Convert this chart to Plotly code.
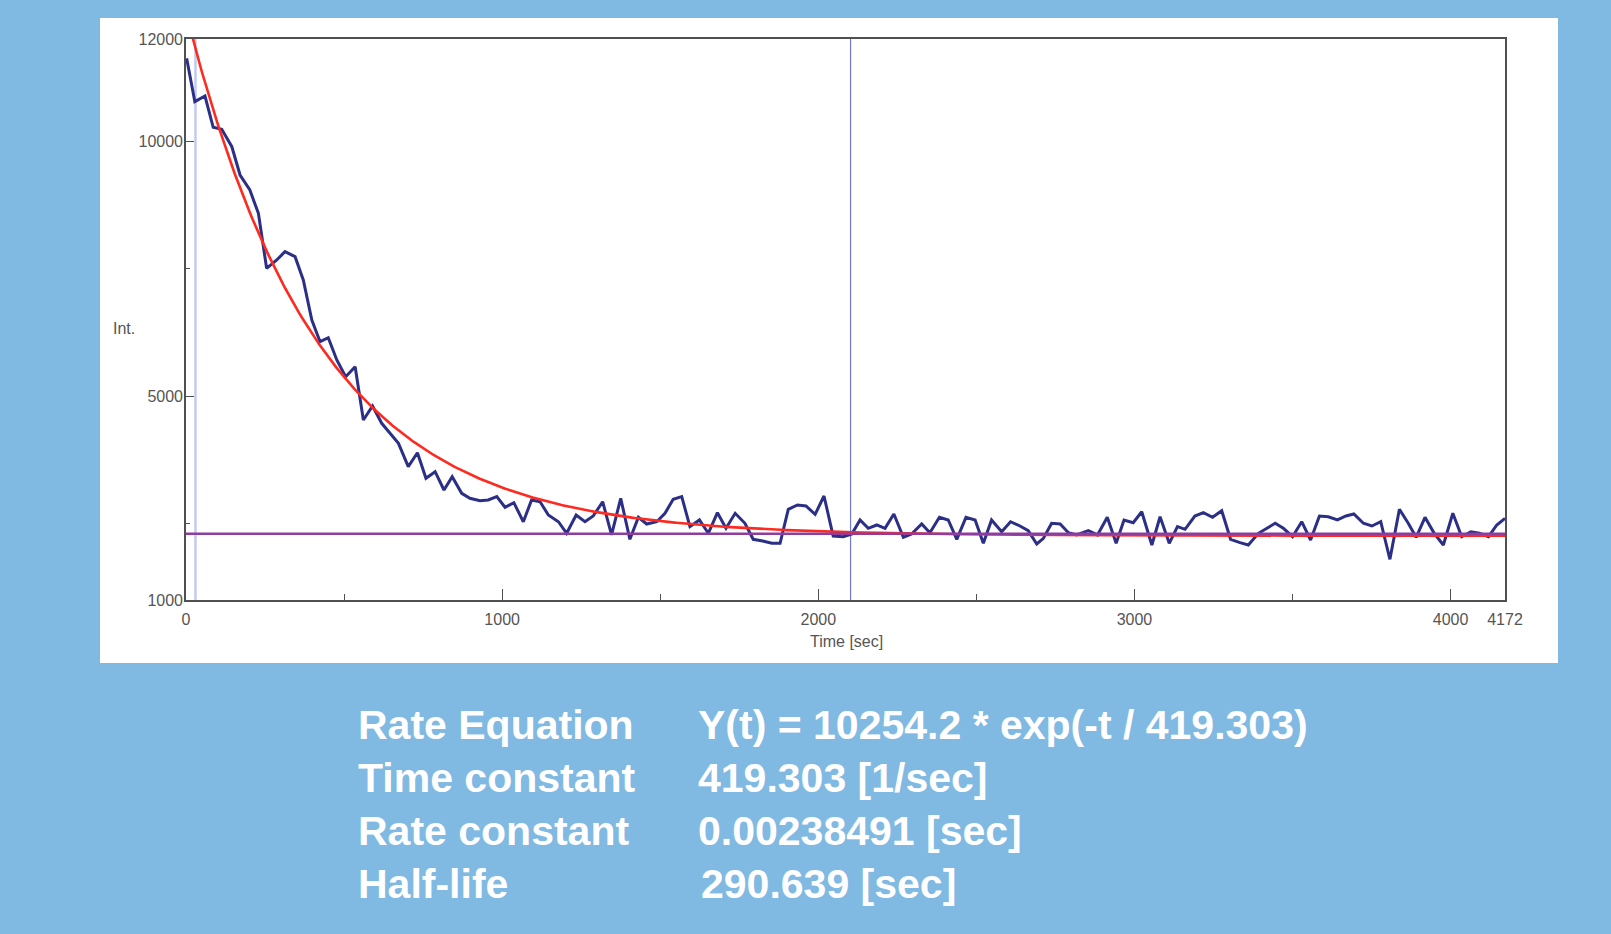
import numpy as np
import plotly.graph_objects as go

# ---------------- data ----------------
time_sec = [2, 28, 60, 86, 113, 145, 171, 202, 229, 255, 287, 313, 345, 371, 398, 424, 450, 477,
            505, 535, 561, 590, 619, 645, 672, 703, 732, 759, 788, 816, 842, 872, 898, 930, 956,
            983, 1009, 1037, 1067, 1093, 1120, 1146, 1178, 1204, 1234, 1262, 1288, 1318, 1346,
            1375, 1404, 1431, 1457, 1489, 1515, 1541, 1568, 1594, 1624, 1652, 1681, 1708, 1737,
            1768, 1794, 1824, 1853, 1879, 1905, 1934, 1961, 1990, 2018, 2047, 2079, 2106, 2132,
            2158, 2185, 2211, 2239, 2269, 2295, 2327, 2353, 2383, 2411, 2438, 2467, 2496, 2522,
            2548, 2580, 2608, 2638, 2664, 2691, 2712, 2738, 2765, 2791, 2817, 2854, 2883, 2914,
            2942, 2967, 2996, 3023, 3055, 3081, 3110, 3136, 3160, 3191, 3218, 3247, 3276, 3304,
            3334, 3360, 3392, 3418, 3445, 3471, 3500, 3529, 3557, 3585, 3613, 3642, 3669, 3694,
            3724, 3751, 3779, 3793, 3808, 3838, 3866, 3891, 3919, 3948, 3977, 4007, 4035, 4064,
            4091, 4120, 4146, 4172]
intensity = [11622, 10771, 10882, 10268, 10229, 9888, 9333, 9039, 8582, 7504, 7667, 7830, 7732,
             7275, 6490, 6065, 6143, 5706, 5378, 5574, 4529, 4804, 4465, 4268, 4072, 3614, 3888,
             3386, 3516, 3157, 3418, 3092, 2994, 2947, 2961, 3026, 2818, 2908, 2535, 2961, 2927,
             2667, 2535, 2308, 2667, 2535, 2647, 2927, 2275, 2994, 2190, 2621, 2490, 2535, 2700,
             2974, 3026, 2438, 2569, 2308, 2712, 2406, 2700, 2504, 2190, 2157, 2112, 2112, 2778,
             2863, 2843, 2680, 3039, 2255, 2241, 2294, 2569, 2406, 2471, 2406, 2686, 2229, 2294,
             2490, 2320, 2621, 2569, 2190, 2621, 2569, 2112, 2569, 2339, 2535, 2451, 2359, 2098,
             2209, 2504, 2490, 2320, 2275, 2359, 2275, 2621, 2112, 2569, 2516, 2731, 2078, 2633,
             2112, 2438, 2386, 2647, 2712, 2621, 2751, 2190, 2124, 2078, 2308, 2406, 2504, 2406,
             2241, 2535, 2176, 2647, 2633, 2569, 2647, 2686, 2504, 2451, 2535, 2176, 1798, 2778,
             2504, 2229, 2621, 2308, 2078, 2700, 2241, 2339, 2308, 2241, 2471, 2602]

fit_amplitude = 10254.2
fit_tau = 419.303
fit_offset = 2260
baseline_level = 2300
cursor_times = [30, 2102]

x_range = [0, 4172]
y_range = [1000, 12000]
x_tickvals = [0, 1000, 2000, 3000, 4000, 4172]
x_minor_ticks = [500, 1500, 2500, 3500]
y_tickvals = [1000, 5000, 10000, 12000]
y_minor_ticks = [2500, 7500]

info_labels = ["Rate Equation", "Time constant", "Rate constant", "Half-life"]
info_values = ["Y(t) = 10254.2 * exp(-t / 419.303)", "419.303 [1/sec]",
               "0.00238491 [sec]", "290.639 [sec]"]

# ---------------- figure ----------------
W, H = 1611, 934
L, R, T, B = 186, 106, 39, 334
pw, ph = W - L - R, H - T - B

def px(x):  # pixel x -> paper
    return (x - L) / pw

def py(y):  # pixel y -> paper
    return (H - B - y) / ph

fit_t = np.linspace(x_range[0], x_range[1], 800)
fit_y = fit_offset + fit_amplitude * np.exp(-fit_t / fit_tau)

fig = go.Figure()

# cursors
fig.add_trace(go.Scatter(x=[cursor_times[0]] * 2, y=y_range, mode="lines",
                         line=dict(color="#c3c9ef", width=2.5), hoverinfo="skip"))
fig.add_trace(go.Scatter(x=[cursor_times[1]] * 2, y=y_range, mode="lines",
                         line=dict(color="#6f7bd6", width=1.2), hoverinfo="skip"))
# data
fig.add_trace(go.Scatter(x=time_sec, y=intensity, mode="lines",
                         line=dict(color="#2c2f86", width=3)))
# fit
fig.add_trace(go.Scatter(x=fit_t, y=fit_y, mode="lines",
                         line=dict(color="#ff2a1f", width=2.6)))
# baseline
fig.add_trace(go.Scatter(x=x_range, y=[baseline_level] * 2, mode="lines",
                         line=dict(color="#8e3c9e", width=2.6)))

tick_font = dict(family="Liberation Sans Narrow, Arial Narrow, Liberation Sans, Arial",
                 size=16, color="#555555")

fig.update_xaxes(range=x_range, tickmode="array", tickvals=x_tickvals,
                 ticktext=[str(v) for v in x_tickvals],
                 ticks="inside", ticklen=11, tickwidth=1.2, tickcolor="#505050",
                 minor=dict(tickmode="array", tickvals=x_minor_ticks, ticks="inside",
                            ticklen=6, tickwidth=1.2, tickcolor="#505050"),
                 showline=True, linecolor="#505050", linewidth=1.6, mirror=True,
                 showgrid=False, zeroline=False, tickfont=tick_font,
                 ticklabelstandoff=4)
fig.update_yaxes(range=y_range, tickmode="array", tickvals=y_tickvals,
                 ticktext=[str(v) for v in y_tickvals],
                 ticks="inside", ticklen=8, tickwidth=1.2, tickcolor="#505050",
                 minor=dict(tickmode="array", tickvals=y_minor_ticks, ticks="inside",
                            ticklen=4, tickwidth=1.2, tickcolor="#505050"),
                 showline=True, linecolor="#505050", linewidth=1.6, mirror=True,
                 showgrid=False, zeroline=False, tickfont=tick_font,
                 ticklabelstandoff=-2)

shapes = [dict(type="rect", xref="paper", yref="paper",
               x0=px(100), x1=px(1558), y0=py(663), y1=py(18),
               fillcolor="white", line=dict(width=0), layer="below")]

annotations = [
    dict(text="Int.", xref="paper", yref="paper", x=px(124), y=py(329),
         xanchor="center", yanchor="middle", showarrow=False, font=tick_font),
    dict(text="Time [sec]", xref="paper", yref="paper", x=px(846), y=py(641),
         xanchor="center", yanchor="middle", showarrow=False, font=tick_font),
]

info_font = dict(family="Liberation Sans, Arial", size=41, color="white")
row_y = [725, 778, 831, 884]
for i, (lab, val) in enumerate(zip(info_labels, info_values)):
    annotations.append(dict(text="<b>%s</b>" % lab, xref="paper", yref="paper",
                            x=px(356), y=py(row_y[i]), xanchor="left", yanchor="middle",
                            showarrow=False, font=info_font))
    vx = 699 if i == 3 else 696
    annotations.append(dict(text="<b>%s</b>" % val, xref="paper", yref="paper",
                            x=px(vx), y=py(row_y[i]), xanchor="left", yanchor="middle",
                            showarrow=False, font=info_font))

fig.update_layout(width=W, height=H, autosize=False,
                  margin=dict(l=L, r=R, t=T, b=B, pad=0),
                  paper_bgcolor="#80b9e2", plot_bgcolor="white",
                  showlegend=False, shapes=shapes, annotations=annotations)

fig.write_html("out.html", config={"displayModeBar": False},
               post_script="document.body.style.margin='0px';"
                           "document.body.style.overflow='hidden';"
                           "document.documentElement.style.margin='0px';")
